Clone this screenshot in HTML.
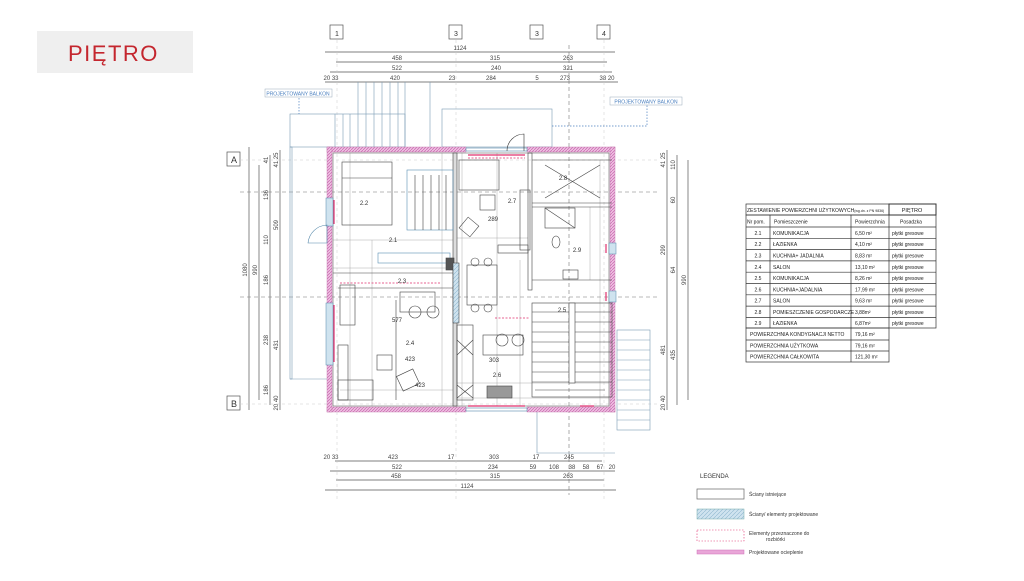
<!DOCTYPE html>
<html><head><meta charset="utf-8"><style>
html,body{margin:0;padding:0;background:#fff;}
body{width:1024px;height:576px;overflow:hidden;position:relative;font-family:"Liberation Sans",sans-serif;}
svg text{font-family:"Liberation Sans",sans-serif;}
</style></head><body>
<svg width="1024" height="576" viewBox="0 0 1024 576" xmlns="http://www.w3.org/2000/svg">
<defs>
<pattern id="pk" width="3" height="3" patternUnits="userSpaceOnUse"><rect width="3" height="3" fill="#efbfe2"/><path d="M0 3L3 0" stroke="#c76aae" stroke-width="0.7"/></pattern>
<pattern id="bl" width="4" height="4" patternUnits="userSpaceOnUse"><rect width="4" height="4" fill="#cfe3ef"/><path d="M0 4L4 0" stroke="#8fb7cf" stroke-width="0.6"/></pattern>
</defs>
<!-- title -->
<rect x="37" y="31" width="156" height="42" fill="#efefef"/>
<text x="68" y="61" font-size="22" fill="#c4262e" letter-spacing="1.5">PIĘTRO</text>

<g stroke="#555" stroke-width="0.7" fill="none">
<rect x="330" y="25" width="13" height="14"/><rect x="449" y="25" width="13" height="14"/>
<rect x="530" y="25" width="13" height="14"/><rect x="597" y="25" width="13" height="14"/>
<line x1="325" y1="52" x2="615" y2="52"/><line x1="336" y1="62" x2="607" y2="62"/>
<line x1="330" y1="72" x2="612" y2="72"/><line x1="325" y1="82" x2="618" y2="82"/>
<line x1="335" y1="461" x2="602" y2="461"/><line x1="330" y1="471" x2="615" y2="471"/>
<line x1="336" y1="480" x2="604" y2="480"/><line x1="325" y1="490" x2="616" y2="490"/>
<line x1="249" y1="147" x2="249" y2="410"/><line x1="259" y1="165" x2="259" y2="400"/>
<line x1="270" y1="155" x2="270" y2="405"/><line x1="280" y1="150" x2="280" y2="410"/>
<line x1="667" y1="150" x2="667" y2="410"/><line x1="677" y1="155" x2="677" y2="405"/>
<line x1="688" y1="160" x2="688" y2="400"/>
<rect x="227" y="152" width="13" height="14"/><rect x="227" y="396" width="13" height="14"/>
</g>
<g font-size="7" fill="#333" text-anchor="middle">
<text x="337" y="36">1</text><text x="456" y="36">3</text><text x="537" y="36">3</text><text x="604" y="36">4</text>
<text x="234" y="163" font-size="9">A</text><text x="234" y="407" font-size="9">B</text>
</g>
<g font-size="6" fill="#444" text-anchor="middle">
<text x="460" y="50">1124</text><text x="397" y="60">458</text><text x="495" y="60">315</text><text x="568" y="60">263</text>
<text x="397" y="70">522</text><text x="496" y="70">240</text><text x="568" y="70">321</text>
<text x="331" y="80">20 33</text><text x="395" y="80">420</text><text x="452" y="80">23</text><text x="491" y="80">284</text><text x="537" y="80">5</text><text x="565" y="80">273</text><text x="607" y="80">38 20</text>
<text x="331" y="459">20 33</text><text x="393" y="459">423</text><text x="451" y="459">17</text><text x="494" y="459">303</text><text x="536" y="459">17</text><text x="569" y="459">245</text>
<text x="397" y="469">522</text><text x="493" y="469">234</text><text x="533" y="469">59</text><text x="554" y="469">108</text><text x="572" y="469">38</text><text x="586" y="469">58</text><text x="600" y="469">67</text><text x="612" y="469">20</text>
<text x="396" y="478">458</text><text x="495" y="478">315</text><text x="568" y="478">263</text>
<text x="467" y="488">1124</text>
</g>
<g font-size="6" fill="#444" text-anchor="middle">
<text transform="translate(247,270) rotate(-90)">1080</text>
<text transform="translate(257,270) rotate(-90)">990</text>
<text transform="translate(268,160) rotate(-90)">41</text><text transform="translate(268,195) rotate(-90)">136</text><text transform="translate(268,240) rotate(-90)">110</text><text transform="translate(268,280) rotate(-90)">186</text><text transform="translate(268,340) rotate(-90)">238</text><text transform="translate(268,390) rotate(-90)">186</text>
<text transform="translate(278,160) rotate(-90)">41 25</text><text transform="translate(278,225) rotate(-90)">509</text><text transform="translate(278,345) rotate(-90)">431</text><text transform="translate(278,403) rotate(-90)">20 40</text>
<text transform="translate(665,160) rotate(-90)">41 25</text><text transform="translate(665,250) rotate(-90)">299</text><text transform="translate(665,350) rotate(-90)">481</text><text transform="translate(665,403) rotate(-90)">20 40</text>
<text transform="translate(675,165) rotate(-90)">110</text><text transform="translate(675,200) rotate(-90)">60</text><text transform="translate(675,270) rotate(-90)">64</text><text transform="translate(675,355) rotate(-90)">435</text>
<text transform="translate(686,280) rotate(-90)">990</text>
</g>
<g stroke="#777" stroke-width="0.6" stroke-dasharray="4,3" fill="none">
<line x1="240" y1="192" x2="660" y2="192"/><line x1="240" y1="297" x2="660" y2="297"/>
<line x1="569" y1="45" x2="569" y2="495"/>
</g>
<g stroke="#ccc" stroke-width="0.5" stroke-dasharray="3,3"><line x1="337" y1="40" x2="337" y2="500"/><line x1="456" y1="40" x2="456" y2="500"/><line x1="604" y1="40" x2="604" y2="500"/><line x1="240" y1="404" x2="660" y2="404"/><line x1="240" y1="160" x2="660" y2="160"/></g>

<g stroke="#7a9bb5" stroke-width="0.6" fill="none">
<rect x="290" y="114" width="115" height="33"/>
<line x1="335" y1="114" x2="335" y2="147"/><line x1="343" y1="114" x2="343" y2="147"/><line x1="350" y1="114" x2="350" y2="147"/>
<line x1="358" y1="82" x2="358" y2="147"/><line x1="366" y1="82" x2="366" y2="147"/><line x1="374" y1="82" x2="374" y2="147"/><line x1="382" y1="82" x2="382" y2="147"/><line x1="390" y1="82" x2="390" y2="147"/><line x1="398" y1="82" x2="398" y2="147"/><line x1="405" y1="82" x2="405" y2="147"/>
<line x1="430" y1="82" x2="430" y2="147"/>
<rect x="442" y="109" width="110" height="38"/>
<rect x="290" y="147" width="2" height="232"/><line x1="290" y1="379" x2="327" y2="379"/>
<rect x="617" y="330" width="33" height="100"/>
<line x1="617" y1="340" x2="650" y2="340"/><line x1="617" y1="350" x2="650" y2="350"/><line x1="617" y1="360" x2="650" y2="360"/><line x1="617" y1="370" x2="650" y2="370"/><line x1="617" y1="380" x2="650" y2="380"/><line x1="617" y1="390" x2="650" y2="390"/><line x1="617" y1="400" x2="650" y2="400"/><line x1="617" y1="410" x2="650" y2="410"/><line x1="617" y1="420" x2="650" y2="420"/>
<polyline points="537,412 537,453 615,453"/>
</g>
<g stroke="#4a7fbf" stroke-width="0.7" fill="none" stroke-dasharray="1.5,1.5">
<line x1="299" y1="98" x2="299" y2="114"/><polyline points="552,126 647,126 647,104"/>
</g>
<rect x="265" y="89" width="67" height="8" fill="#fff" stroke="#9ab" stroke-width="0.5"/>
<text x="298" y="95.5" font-size="5" fill="#4a7fbf" text-anchor="middle">PROJEKTOWANY BALKON</text>
<rect x="610" y="97" width="72" height="8" fill="#fff" stroke="#9ab" stroke-width="0.5"/>
<text x="646" y="103.5" font-size="5" fill="#4a7fbf" text-anchor="middle">PROJEKTOWANY BALKON</text>

<!-- interior dimension grid -->
<g stroke="#999" stroke-width="0.4" fill="none">
<line x1="333" y1="240" x2="453" y2="240"/><line x1="333" y1="268" x2="453" y2="268"/><line x1="340" y1="390" x2="453" y2="390"/>
<line x1="350" y1="153" x2="350" y2="406"/><line x1="372" y1="240" x2="372" y2="406"/><line x1="442" y1="153" x2="442" y2="406"/>
<line x1="462" y1="153" x2="462" y2="406"/><line x1="497" y1="153" x2="497" y2="406"/><line x1="520" y1="260" x2="520" y2="406"/>
<line x1="457" y1="238" x2="528" y2="238"/><line x1="457" y1="383" x2="609" y2="383"/><line x1="457" y1="398" x2="609" y2="398"/>
<line x1="590" y1="207" x2="590" y2="280"/><line x1="600" y1="160" x2="600" y2="406"/>
</g>

<g fill="url(#pk)" stroke="#c070a8" stroke-width="0.4">
<rect x="327" y="147" width="139" height="5"/><rect x="527" y="147" width="88" height="5"/>
<rect x="327" y="407" width="139" height="5"/><rect x="527" y="407" width="88" height="5"/>
<rect x="327" y="147" width="5" height="265"/><rect x="610" y="147" width="5" height="265"/>
</g>
<rect x="466" y="148" width="61" height="3" fill="#fff" stroke="#58a" stroke-width="0.6"/>
<rect x="466" y="408" width="61" height="3" fill="#fff" stroke="#58a" stroke-width="0.6"/>
<path d="M507 151 A17 17 0 0 1 524 134 L524 151" fill="none" stroke="#333" stroke-width="0.6"/>
<rect x="333" y="153" width="276" height="253" fill="none" stroke="#666" stroke-width="0.6"/>
<g fill="#cfe3ef" stroke="#58a" stroke-width="0.5">
<rect x="326" y="198" width="7" height="28"/><rect x="326" y="303" width="7" height="62"/><rect x="609" y="243" width="7" height="11"/><rect x="609" y="291" width="7" height="11"/>
</g>
<g stroke="#e0306e" stroke-width="1.2"><line x1="334" y1="200" x2="334" y2="224"/><line x1="334" y1="305" x2="334" y2="362"/><line x1="606" y1="244" x2="606" y2="253"/><line x1="606" y1="292" x2="606" y2="301"/><line x1="468" y1="155" x2="525" y2="155"/><line x1="468" y1="406" x2="525" y2="406"/><line x1="580" y1="406" x2="594" y2="406"/></g>
<path d="M308 243 A20 20 0 0 1 327 225 L327 243 Z" fill="none" stroke="#58a" stroke-width="0.6"/>

<g stroke="#444" stroke-width="0.6" fill="none">
<rect x="453" y="153" width="4" height="253" fill="#ddd"/>
<rect x="528" y="153" width="4" height="137"/>
<rect x="342" y="162" width="50" height="63"/>
<line x1="342" y1="178" x2="392" y2="178"/>
<rect x="407" y="170" width="46" height="60" stroke="#5a8fb5"/>
<line x1="415" y1="175" x2="415" y2="230"/><line x1="423" y1="175" x2="423" y2="230"/><line x1="431" y1="175" x2="431" y2="230"/><line x1="439" y1="175" x2="439" y2="230"/><line x1="446" y1="175" x2="446" y2="230"/>
<rect x="378" y="253" width="72" height="10" stroke="#5a8fb5"/>
<line x1="333" y1="273" x2="453" y2="273"/><line x1="338" y1="288" x2="453" y2="288"/>
<rect x="340" y="285" width="15" height="40"/>
<rect x="400" y="292" width="35" height="20"/>
<circle cx="415" cy="312" r="6"/><circle cx="433" cy="312" r="6"/>
<rect x="338" y="345" width="10" height="55"/><rect x="338" y="380" width="35" height="20"/>
<rect x="377" y="355" width="15" height="15"/>
<rect x="399" y="372" width="18" height="16" transform="rotate(-25 408 380)"/>
<line x1="396" y1="300" x2="396" y2="400"/>
<rect x="446" y="258" width="8" height="12" fill="#555"/>
<rect x="453" y="263" width="6" height="60" fill="url(#bl)"/>
<rect x="457" y="325" width="16" height="75"/>
<line x1="457" y1="340" x2="473" y2="355"/><line x1="473" y1="340" x2="457" y2="355"/><line x1="457" y1="385" x2="473" y2="398"/><line x1="473" y1="385" x2="457" y2="398"/>
<rect x="459" y="160" width="40" height="30"/>
<rect x="480" y="195" width="15" height="15"/>
<rect x="462" y="220" width="14" height="14" transform="rotate(40 469 227)"/>
<rect x="467" y="265" width="30" height="40"/>
<circle cx="475" cy="262" r="4"/><circle cx="488" cy="262" r="4"/><circle cx="475" cy="308" r="4"/><circle cx="488" cy="308" r="4"/>
<rect x="483" y="335" width="40" height="20"/><circle cx="502" cy="340" r="6"/><circle cx="518" cy="340" r="6"/>
<rect x="487" y="386" width="25" height="12" fill="#999"/>
<line x1="532" y1="160" x2="612" y2="160"/><line x1="532" y1="203" x2="612" y2="203"/>
<line x1="545" y1="165" x2="600" y2="198"/><line x1="600" y1="165" x2="545" y2="198"/>
<line x1="532" y1="207" x2="612" y2="207"/><line x1="532" y1="280" x2="612" y2="280"/>
<rect x="545" y="208" width="30" height="20"/><line x1="545" y1="208" x2="575" y2="228"/>
<ellipse cx="556" cy="242" rx="4" ry="6"/><rect x="563" y="270" width="15" height="9"/>
<rect x="520" y="190" width="10" height="60"/><rect x="498" y="245" width="30" height="8"/>
<rect x="532" y="303" width="80" height="94"/>
<line x1="532" y1="312" x2="612" y2="312"/><line x1="532" y1="322" x2="612" y2="322"/><line x1="532" y1="332" x2="612" y2="332"/><line x1="532" y1="342" x2="612" y2="342"/><line x1="532" y1="352" x2="612" y2="352"/><line x1="532" y1="362" x2="612" y2="362"/><line x1="532" y1="372" x2="612" y2="372"/><line x1="532" y1="382" x2="612" y2="382"/>
<rect x="569" y="303" width="6" height="80" fill="#fff"/>
<line x1="535" y1="390" x2="605" y2="390"/>
</g>
<g stroke="#e0306e" stroke-width="0.8" stroke-dasharray="2,1.5"><line x1="340" y1="283" x2="440" y2="283"/><line x1="495" y1="318" x2="530" y2="318"/><line x1="468" y1="158" x2="525" y2="158"/></g>
<g fill="#333" font-size="6" text-anchor="middle">
<text x="364" y="205">2.2</text><text x="393" y="242">2.1</text><text x="402" y="283">2.3</text><text x="410" y="345">2.4</text><text x="410" y="361">423</text><text x="512" y="203">2.7</text><text x="493" y="221">289</text><text x="563" y="180">2.8</text><text x="577" y="252">2.9</text><text x="562" y="312">2.5</text><text x="497" y="377">2.6</text><text x="494" y="362">303</text><text x="397" y="322">577</text><text x="420" y="387">423</text>
</g>

<g stroke="#333" stroke-width="0.7" fill="none">
<rect x="746" y="204" width="143" height="11"/><rect x="889" y="204" width="47" height="11" stroke-width="1"/>
<rect x="746" y="215" width="190" height="113"/>
<line x1="746" y1="227" x2="936" y2="227"/>
<line x1="746" y1="238.3" x2="936" y2="238.3"/><line x1="746" y1="249.6" x2="936" y2="249.6"/><line x1="746" y1="260.9" x2="936" y2="260.9"/><line x1="746" y1="272.2" x2="936" y2="272.2"/><line x1="746" y1="283.5" x2="936" y2="283.5"/><line x1="746" y1="294.8" x2="936" y2="294.8"/><line x1="746" y1="306.1" x2="936" y2="306.1"/><line x1="746" y1="317.4" x2="936" y2="317.4"/>
<line x1="770" y1="215" x2="770" y2="328"/><line x1="851" y1="215" x2="851" y2="362"/><line x1="889" y1="215" x2="889" y2="328"/>
<rect x="746" y="328" width="143" height="34"/><line x1="746" y1="340" x2="889" y2="340"/><line x1="746" y1="351" x2="889" y2="351"/>
</g>
<g font-size="5" fill="#222">
<text x="747" y="212">ZESTAWIENIE POWIERZCHNI UŻYTKOWYCH<tspan font-size="3.5">(wg.dn. z PN 9836)</tspan></text>
<text x="912" y="212" text-anchor="middle" font-size="5.5">PIĘTRO</text>
<text x="747" y="223.5">Nr pom.</text><text x="774" y="223.5">Pomieszczenie</text><text x="855" y="223.5">Powierzchnia</text><text x="900" y="223.5">Posadzka</text>
<g text-anchor="middle"><text x="758" y="235">2.1</text><text x="758" y="246">2.2</text><text x="758" y="257.5">2.3</text><text x="758" y="269">2.4</text><text x="758" y="280">2.5</text><text x="758" y="291.5">2.6</text><text x="758" y="302.5">2.7</text><text x="758" y="314">2.8</text><text x="758" y="325">2.9</text></g>
<text x="773" y="235">KOMUNIKACJA</text><text x="773" y="246">ŁAZIENKA</text><text x="773" y="257.5">KUCHNIA+ JADALNIA</text><text x="773" y="269">SALON</text><text x="773" y="280">KOMUNIKACJA</text><text x="773" y="291.5">KUCHNIA+JADALNIA</text><text x="773" y="302.5">SALON</text><text x="773" y="314">POMIESZCZENIE GOSPODARCZE</text><text x="773" y="325">ŁAZIENKA</text>
<text x="855" y="235">6,50 m²</text><text x="855" y="246">4,10 m²</text><text x="855" y="257.5">8,83 m²</text><text x="855" y="269">13,10 m²</text><text x="855" y="280">8,26 m²</text><text x="855" y="291.5">17,99 m²</text><text x="855" y="302.5">9,63 m²</text><text x="855" y="314">3,88m²</text><text x="855" y="325">6,87m²</text>
<g><text x="892" y="235">płytki gresowe</text><text x="892" y="246">płytki gresowe</text><text x="892" y="257.5">płytki gresowe</text><text x="892" y="269">płytki gresowe</text><text x="892" y="280">płytki gresowe</text><text x="892" y="291.5">płytki gresowe</text><text x="892" y="302.5">płytki gresowe</text><text x="892" y="314">płytki gresowe</text><text x="892" y="325">płytki gresowe</text></g>
<text x="750" y="336">POWIERZCHNIA KONDYGNACJI NETTO</text><text x="855" y="336">79,16 m²</text>
<text x="750" y="347.5">POWIERZCHNIA UŻYTKOWA</text><text x="855" y="347.5">79,16 m²</text>
<text x="750" y="358.5">POWIERZCHNIA CAŁKOWITA</text><text x="855" y="358.5">121,30 m²</text>
</g>

<text x="700" y="478" font-size="6" fill="#333">LEGENDA</text>
<rect x="697" y="489" width="47" height="10" fill="#fff" stroke="#666" stroke-width="0.7"/>
<rect x="697" y="509" width="47" height="10" fill="url(#bl)" stroke="#7aa" stroke-width="0.5"/>
<rect x="697" y="530" width="47" height="11" fill="#fff" stroke="#e0306e" stroke-width="0.6" stroke-dasharray="1.5,1.5"/>
<rect x="697" y="550" width="47" height="4" fill="#e9a6d8" stroke="#d070b8" stroke-width="0.5"/>
<g font-size="5" fill="#333">
<text x="749" y="496">Ściany istniejące</text>
<text x="749" y="516">Ściany/ elementy projektowane</text>
<text x="749" y="535">Elementy przeznaczone do</text><text x="766" y="541">rozbiórki</text>
<text x="749" y="554">Projektowane ocieplenie</text>
</g>
</svg>
</body></html>
